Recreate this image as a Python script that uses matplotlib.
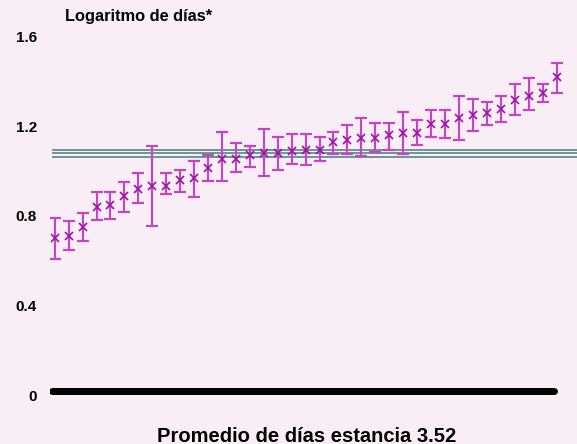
import numpy as np
import matplotlib
matplotlib.use("Agg")
import matplotlib.pyplot as plt
import matplotlib.transforms as mtransforms

# Log of length of stay per unit, with confidence limits
log_mean = [0.682, 0.693, 0.731, 0.821, 0.831, 0.871, 0.902, 0.917, 0.917, 0.942,
            0.950, 0.997, 1.036, 1.036, 1.054, 1.064, 1.062, 1.070, 1.076, 1.076,
            1.111, 1.121, 1.128, 1.131, 1.143, 1.151, 1.151, 1.192, 1.192, 1.220,
            1.231, 1.240, 1.260, 1.299, 1.317, 1.332, 1.401]
log_upper = [0.774, 0.758, 0.797, 0.890, 0.889, 0.935, 0.975, 1.094, 0.975, 0.987,
             1.026, 1.054, 1.157, 1.106, 1.094, 1.169, 1.136, 1.148, 1.148, 1.136,
             1.158, 1.188, 1.218, 1.198, 1.198, 1.247, 1.210, 1.255, 1.255, 1.317,
             1.302, 1.292, 1.317, 1.371, 1.396, 1.369, 1.466]
log_lower = [0.589, 0.630, 0.669, 0.764, 0.770, 0.801, 0.841, 0.737, 0.880, 0.890,
             0.868, 0.938, 0.939, 0.978, 0.999, 0.960, 0.987, 1.014, 1.011, 1.029,
             1.057, 1.058, 1.049, 1.069, 1.076, 1.058, 1.099, 1.133, 1.130, 1.121,
             1.161, 1.188, 1.200, 1.232, 1.255, 1.292, 1.332]

# Overall mean and its limits
ref_lines = [1.076, 1.062, 1.045]

y_ticks = [0, 0.4, 0.8, 1.2, 1.6]
y_ticklabels = ["0", "0.4", "0.8", "1.2", "1.6"]

title_text = "Logaritmo de días*"
xlabel_text = "Promedio de días estancia 3.52"

bg = "#f9eef6"
font = ["Liberation Sans Narrow", "Liberation Sans", "DejaVu Sans"]
plt.rcParams["font.family"] = font

W, H = 577, 444
fig = plt.figure(figsize=(W / 100, H / 100), dpi=100, facecolor=bg)
ax = fig.add_axes([50 / W, 44 / H, 527 / W, 380 / H], facecolor=bg)

n = len(log_mean)
x = np.arange(1, n + 1)
mean = np.array(log_mean)
yerr = np.vstack([mean - np.array(log_lower), np.array(log_upper) - mean])

ax.set_xlim(0.663, 38.47)
ax.set_ylim(-0.039, 1.656)

for v in ref_lines:
    ax.axhline(v, xmin=0.005, xmax=1, color="#5e8e90", lw=1.3, zorder=1)

ax.hlines(0, 0.84, 36.85, color="black", lw=5, capstyle="round", zorder=2)

ax.errorbar(x, mean, yerr=yerr, fmt="none", ecolor="#c444c4", elinewidth=1.5,
            capsize=4.0, capthick=1.6, zorder=3)
ax.plot(x, mean, ls="none", marker="x", ms=6, mew=1.2, color="#a010a8", zorder=4)

for s in ax.spines.values():
    s.set_visible(False)
ax.set_xticks([])
ax.set_yticks(y_ticks)
ax.set_yticklabels(y_ticklabels, fontsize=11, fontweight="bold")
ax.tick_params(axis="y", length=0, pad=9.5)
offset = mtransforms.ScaledTranslation(0, -4 / 100, fig.dpi_scale_trans)
for lab in ax.get_yticklabels():
    lab.set_transform(lab.get_transform() + offset)

fig.text(65 / W, 1 - 17 / H, title_text, fontsize=11.8, fontweight="bold",
         ha="left", va="center")
fig.text(307 / W, 1 - 436 / H, xlabel_text, fontsize=14.5, fontweight="bold",
         ha="center", va="center")

fig.savefig("out.png", dpi=100, facecolor=bg)
